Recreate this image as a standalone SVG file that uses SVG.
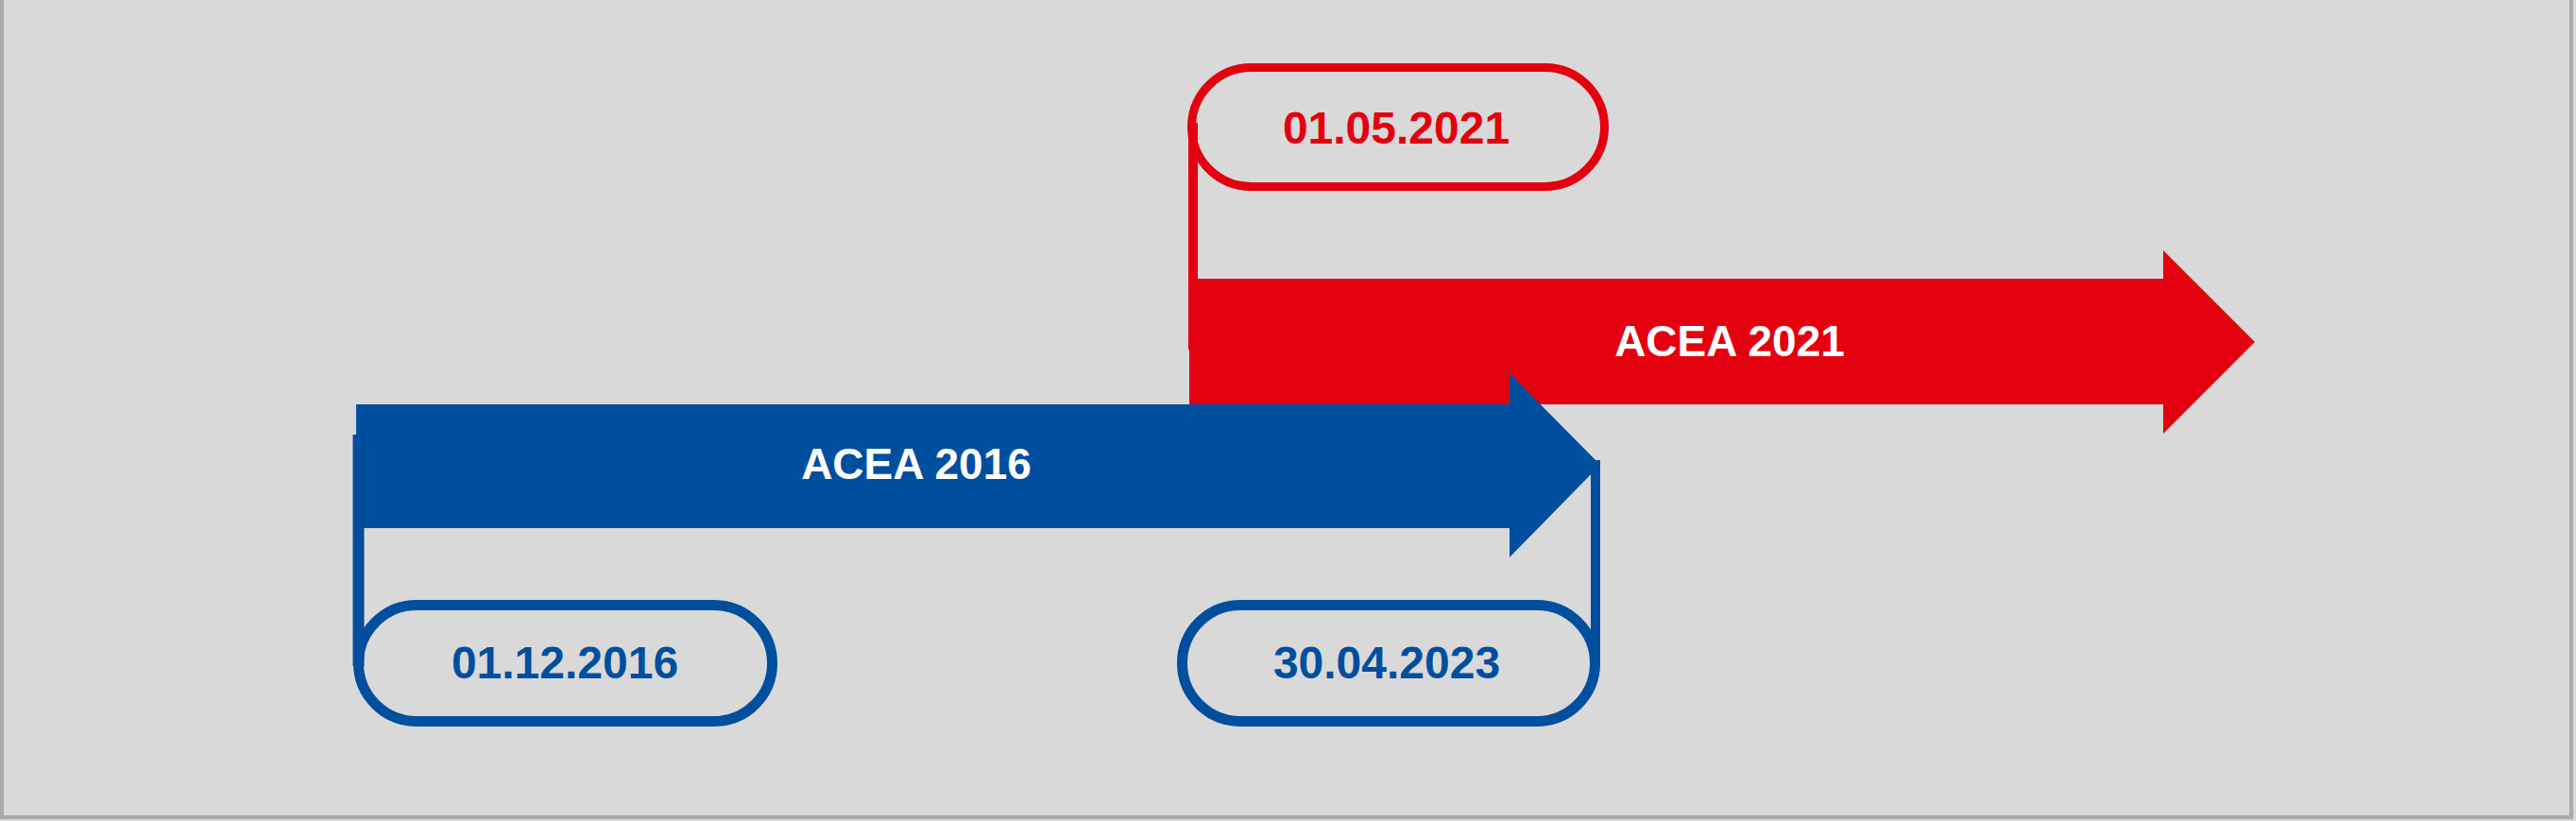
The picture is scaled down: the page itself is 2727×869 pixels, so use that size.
<svg xmlns="http://www.w3.org/2000/svg" width="2727" height="869" viewBox="0 0 2727 869">
<style>
.lbl{font-family:"Liberation Sans",Arial,sans-serif;font-weight:bold;text-anchor:middle}
.date{font-size:48px}
.title{font-size:46px;fill:#ffffff}
.blue{fill:#004f9f}
.red{fill:#e3000f}
.pillB{fill:none;stroke:#004f9f;stroke-width:11}
.pillR{fill:none;stroke:#e3000f;stroke-width:9}
</style>
<rect x="0" y="0" width="2727" height="869" fill="#d9d9d9"/>
<path d="M2 0V865H2722V0" fill="none" stroke="#a9a9a9" stroke-width="4"/>
<g id="connectors">
<line x1="1263" y1="130" x2="1263" y2="370" stroke="#e3000f" stroke-width="10"/>
<line x1="379.5" y1="460" x2="379.5" y2="705" stroke="#004f9f" stroke-width="12"/>
<line x1="1689" y1="487" x2="1689" y2="703" stroke="#004f9f" stroke-width="10"/>
</g>
<g id="arrow-acea-2021">
<polygon class="red" points="1259,295 2290,295 2290,265 2387,362 2290,459 2290,428 1259,428"/>
<text class="lbl title" x="1831" y="377">ACEA 2021</text>
</g>
<g id="arrow-acea-2016">
<polygon class="blue" points="377,428 1598,428 1598,395 1694,492 1598,590 1598,559 377,559"/>
<text class="lbl title" x="970" y="507">ACEA 2016</text>
</g>
<g id="date-01-05-2021">
<rect class="pillR" x="1261.5" y="71.5" width="437" height="126" rx="63"/>
<text class="lbl date red" x="1478" y="152">01.05.2021</text>
</g>
<g id="date-01-12-2016">
<rect class="pillB" x="379.5" y="640.5" width="438" height="123" rx="61.5"/>
<text class="lbl date blue" x="598" y="718">01.12.2016</text>
</g>
<g id="date-30-04-2023">
<rect class="pillB" x="1251.5" y="640.5" width="437" height="123" rx="61.5"/>
<text class="lbl date blue" x="1468" y="718">30.04.2023</text>
</g>
</svg>
